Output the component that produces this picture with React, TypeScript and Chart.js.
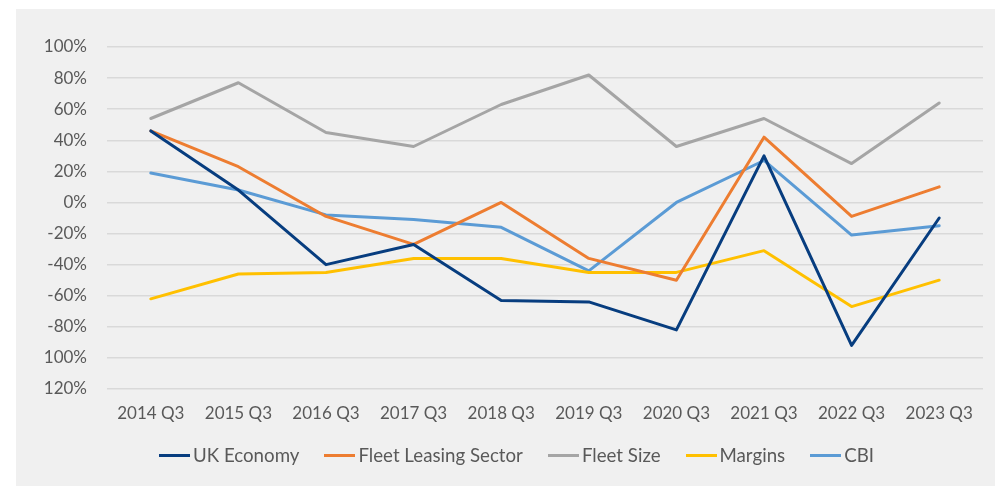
import React, { useEffect, useRef } from "react";
import { Chart, registerables } from "chart.js";

Chart.register(...registerables);

const categories = ["2014 Q3", "2015 Q3", "2016 Q3", "2017 Q3", "2018 Q3", "2019 Q3", "2020 Q3", "2021 Q3", "2022 Q3", "2023 Q3"];
const ukEconomy = [46, 8, -40, -27, -63, -64, -82, 30, -92, -10];
const fleetLeasing = [46, 23, -9, -27, 0, -36, -50, 42, -9, 10];
const fleetSize = [54, 77, 45, 36, 63, 82, 36, 54, 25, 64];
const margins = [-62, -46, -45, -36, -36, -45, -45, -31, -67, -50];
const cbi = [19, 8, -8, -11, -16, -44, 0, 27, -21, -15];

const yTickValues = [100, 80, 60, 40, 20, 0, -20, -40, -60, -80, -100, -120];
const yTickLabels = ["100%", "80%", "60%", "40%", "20%", "0%", "-20%", "-40%", "-60%", "-80%", "100%", "120%"];

const seriesNames = ["UK Economy", "Fleet Leasing Sector", "Fleet Size", "Margins", "CBI"];
const seriesColors = ["#073d7f", "#ed7d31", "#a5a5a5", "#ffc000", "#5b9bd5"];

const FONT = "Lato, 'Open Sans', sans-serif";
const TEXT = "#595959";

export default function App() {
  const ref = useRef<HTMLCanvasElement | null>(null);

  useEffect(() => {
    if (!ref.current) return;
    const values = [ukEconomy, fleetLeasing, fleetSize, margins, cbi];
    const chart = new Chart(ref.current, {
      type: "line",
      data: {
        labels: categories,
        datasets: values.map((d, i) => ({
          label: seriesNames[i],
          data: d,
          borderColor: seriesColors[i],
          backgroundColor: seriesColors[i],
          borderWidth: 3,
          pointRadius: 0,
          pointHoverRadius: 0,
          tension: 0,
          borderJoinStyle: "round" as const,
          borderCapStyle: "round" as const,
        })),
      },
      options: {
        animation: false,
        responsive: false,
        maintainAspectRatio: false,
        layout: { padding: { top: 38, right: 12, bottom: 0, left: 0 } },
        plugins: { legend: { display: false }, tooltip: { enabled: false } },
        scales: {
          x: {
            offset: true,
            grid: { display: false, drawTicks: false },
            border: { display: false },
            ticks: { color: TEXT, font: { family: FONT, size: 17 }, padding: 14, maxRotation: 0, autoSkip: false },
            afterFit: (s: any) => { s.height = 97; },
          },
          y: {
            min: -120,
            max: 100,
            afterBuildTicks: (s: any) => { s.ticks = yTickValues.map((v) => ({ value: v })); },
            grid: { color: "#d9d9d9", lineWidth: 1.5, drawTicks: false },
            border: { display: false },
            ticks: {
              color: TEXT,
              font: { family: FONT, size: 17 },
              padding: 20,
              callback: (v: any) => {
                const idx = yTickValues.indexOf(Number(v));
                return idx >= 0 ? yTickLabels[idx] : "";
              },
            },
            afterFit: (s: any) => { s.width = 91; },
          },
        },
      },
    });
    return () => chart.destroy();
  }, []);

  const legendItems = seriesNames.map((n, i) => (
    <div key={n} style={{ display: "flex", alignItems: "center", marginRight: i < seriesNames.length - 1 ? 25 : 0 }}>
      <span style={{ display: "inline-block", width: 31, height: 3, background: seriesColors[i], marginRight: 3 }} />
      <span>{n}</span>
    </div>
  ));

  return (
    <div style={{ position: "absolute", left: 16, top: 9, width: 979, height: 477, background: "#f0f0f0" }}>
      <canvas ref={ref} width={979} height={477} style={{ display: "block", width: 979, height: 477 }} />
      <div
        style={{
          position: "absolute",
          left: 0,
          right: 0,
          top: 433,
          height: 26,
          display: "flex",
          justifyContent: "center",
          alignItems: "center",
          fontFamily: FONT,
          fontSize: 18.7,
          color: TEXT,
          whiteSpace: "nowrap",
          paddingLeft: 22,
        }}
      >
        {legendItems}
      </div>
    </div>
  );
}
